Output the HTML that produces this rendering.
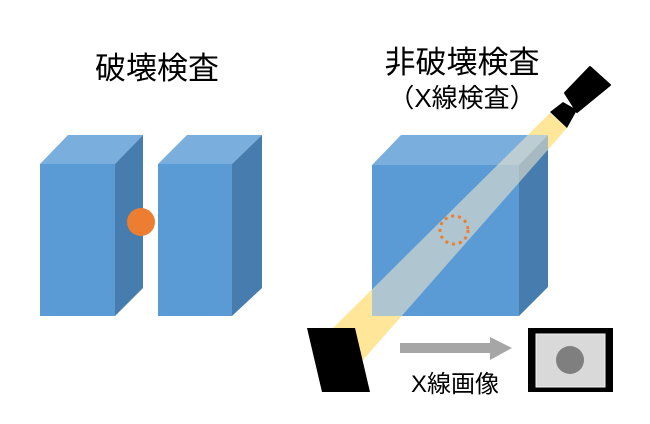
<!DOCTYPE html>
<html><head><meta charset="utf-8"><style>
html,body{margin:0;padding:0;background:#fff;}
svg{display:block;}
text{font-family:"Liberation Sans","Noto Sans CJK JP",sans-serif;fill:#000;}
</style></head><body>
<svg width="650" height="424" viewBox="0 0 650 424">
<defs>
<clipPath id="bx"><polygon points="372,165 401,135 548,135 548,287 519,316 372,316"/></clipPath>
</defs>
<text x="157" y="79" font-size="31" text-anchor="middle">破壊検査</text>
<text x="462" y="73" font-size="31" text-anchor="middle">非破壊検査</text>
<text x="462" y="107" font-size="26" text-anchor="middle">（X線検査）</text>

<polygon points="40,164 68,135 143,135 115,164" fill="#7AAEDC"/>
<polygon points="115,164 143,135 143,288 115,316" fill="#477DAE"/>
<rect x="40" y="164" width="75" height="152" fill="#5B9BD5"/>
<polygon points="158,164 187,135 262,135 232,164" fill="#7AAEDC"/>
<polygon points="232,164 262,135 262,288 232,316" fill="#477DAE"/>
<rect x="158" y="164" width="74" height="152" fill="#5B9BD5"/>
<circle cx="141" cy="222" r="14" fill="#ED7D31"/>

<polygon points="333,328 550,113 567,128 363,360" fill="#FFE699"/>
<polygon points="372,165 401,135 548,135 519,165" fill="#7AAEDC"/>
<polygon points="519,165 548,135 548,287 519,316" fill="#477DAE"/>
<rect x="372" y="165" width="147" height="151" fill="#5B9BD5"/>
<polygon points="333,328 550,113 567,128 363,360" fill="#E7E3CD" opacity="0.6" clip-path="url(#bx)"/>
<circle cx="454" cy="230" r="14" fill="none" stroke="#ED7D31" stroke-width="3" stroke-dasharray="3,4"/>

<polygon points="550,112 563,102 577,110 567,128" fill="#000"/>
<polygon points="590,67 610,85 577,112 565,93" fill="#000" stroke="#000" stroke-width="2" stroke-linejoin="round"/>
<polygon points="307,328 355,328 370,392 322,392" fill="#000"/>

<rect x="400" y="343" width="90" height="10" fill="#A6A6A6"/>
<polygon points="490,337 512,348 490,360" fill="#A6A6A6"/>
<text x="455" y="392" font-size="24" text-anchor="middle">X線画像</text>

<rect x="528" y="328" width="85" height="64" fill="#000"/>
<rect x="536" y="334" width="69" height="53" fill="#D9D9D9" stroke="#F2F2F2" stroke-width="1"/>
<circle cx="570" cy="360" r="14" fill="#7F7F7F"/>
</svg>
</body></html>
